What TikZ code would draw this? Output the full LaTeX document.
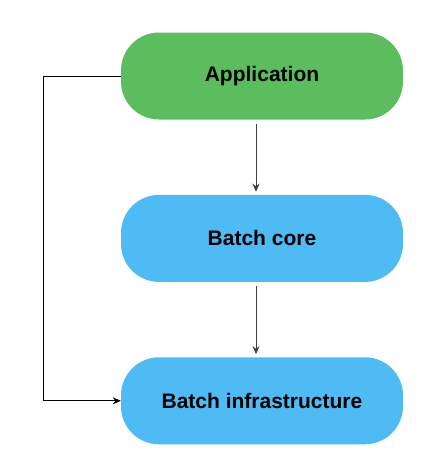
\documentclass[tikz,border=0pt]{standalone}
\usepackage{fontspec}
\setmainfont{Liberation Sans}
\usepackage{tikz}
\usetikzlibrary{arrows.meta, positioning}
\definecolor{AppGreen}{HTML}{5BBD5E}
\definecolor{BatchBlue}{HTML}{4FBBF5}

\begin{document}
\begin{tikzpicture}[x=1pt, y=-1pt, node distance=75pt,
    every node/.style={font=\fontsize{21}{24}\selectfont\bfseries},
    layer/.style={minimum width=282pt, minimum height=87pt, rounded corners=38pt, inner sep=0pt},
    link/.style={-{Stealth[length=8pt,width=7pt]}, line width=0.9pt}]
        \useasboundingbox (0,0) rectangle (438,467);
        \node (app) [layer, fill=AppGreen] at (262,76) {Application};
        \node (core) [layer, fill=BatchBlue, below=of app] {Batch core};
        \node (infra) [layer, fill=BatchBlue, below=of core] {Batch infrastructure};
        \coordinate (turn) at (43,76);
        \draw [link, black!75] ([xshift=-6pt,yshift=-4pt]app.south) -- ([xshift=-6pt,yshift=3pt]core.north);
        \draw [link, black!75] ([xshift=-6pt,yshift=-4pt]core.south) -- ([xshift=-6pt,yshift=3pt]infra.north);
        \draw [link] (app.west) -- (turn) |- (infra.west);
      \end{tikzpicture}
\end{document}
